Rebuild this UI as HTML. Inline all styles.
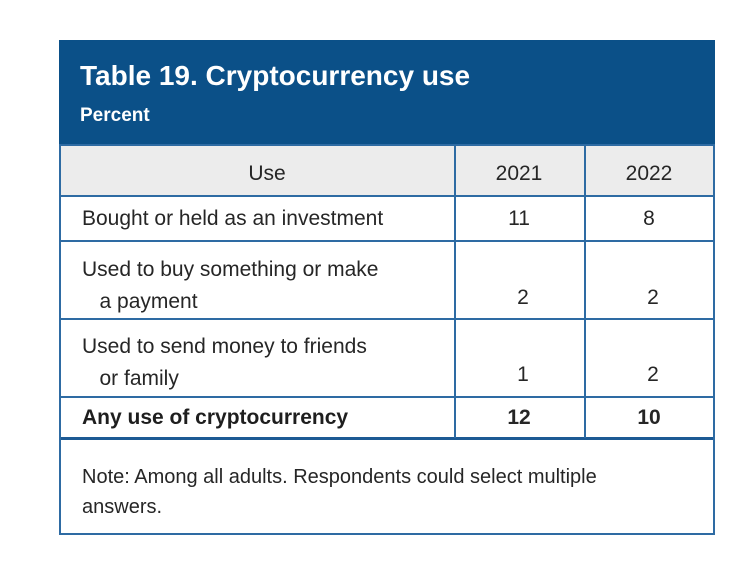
<!DOCTYPE html>
<html><head><meta charset="utf-8"><style>
body{margin:0;width:750px;height:577px;background:#fff;position:relative;overflow:hidden;font-family:"Liberation Sans",sans-serif;color:#262626}
.a{position:absolute;white-space:nowrap;line-height:1}
.l{position:absolute;background:#2e6ba3}
.c{text-align:center;width:120px}
</style></head><body>
<div style="position:absolute;left:59px;top:40px;width:652px;height:493px;border:2px solid #2e6ba3;border-top:none"></div>
<div style="position:absolute;left:59px;top:40px;width:656px;height:104px;background:#0b5088"></div>
<div class="a" style="left:80px;top:62px;font-size:28px;font-weight:bold;color:#fff">Table 19. Cryptocurrency use</div>
<div class="a" style="left:80px;top:106px;font-size:19px;font-weight:bold;color:#fff">Percent</div>
<div style="position:absolute;left:61px;top:145px;width:652px;height:50px;background:#ececec"></div>
<div class="l" style="left:61px;top:144px;width:652px;height:2px"></div>
<div class="l" style="left:61px;top:195px;width:652px;height:2px"></div>
<div class="l" style="left:61px;top:240px;width:652px;height:2px"></div>
<div class="l" style="left:61px;top:318px;width:652px;height:2px"></div>
<div class="l" style="left:61px;top:396px;width:652px;height:2px"></div>
<div class="l" style="left:61px;top:437px;width:652px;height:3px;background:#1d5a94"></div>
<div class="l" style="left:454px;top:145px;width:2px;height:293px"></div>
<div class="l" style="left:584px;top:145px;width:2px;height:293px"></div>
<div class="a c" style="left:207px;top:163px;font-size:21px">Use</div>
<div class="a c" style="left:459px;top:163px;font-size:21px">2021</div>
<div class="a c" style="left:589px;top:163px;font-size:21px">2022</div>
<div class="a" style="left:82px;top:208px;font-size:21px">Bought or held as an investment</div>
<div class="a c" style="left:459px;top:208px;font-size:21px">11</div>
<div class="a c" style="left:589px;top:208px;font-size:21px">8</div>
<div class="a" style="left:82px;top:254px;font-size:21px;line-height:32px;white-space:normal;width:340px">Used to buy something or make<br>&nbsp;&nbsp;&nbsp;a payment</div>
<div class="a c" style="left:463px;top:287px;font-size:21px">2</div>
<div class="a c" style="left:593px;top:287px;font-size:21px">2</div>
<div class="a" style="left:82px;top:331px;font-size:21px;line-height:32px;white-space:normal;width:340px">Used to send money to friends<br>&nbsp;&nbsp;&nbsp;or family</div>
<div class="a c" style="left:463px;top:364px;font-size:21px">1</div>
<div class="a c" style="left:593px;top:364px;font-size:21px">2</div>
<div class="a" style="left:82px;top:407px;font-size:21px;font-weight:bold;color:#1e1e1e">Any use of cryptocurrency</div>
<div class="a c" style="left:459px;top:407px;font-size:21px;font-weight:bold">12</div>
<div class="a c" style="left:589px;top:407px;font-size:21px;font-weight:bold">10</div>
<div class="a" style="left:82px;top:462px;font-size:20px;line-height:30px;white-space:normal;width:560px">Note: Among all adults. Respondents could select multiple answers.</div>
</body></html>
